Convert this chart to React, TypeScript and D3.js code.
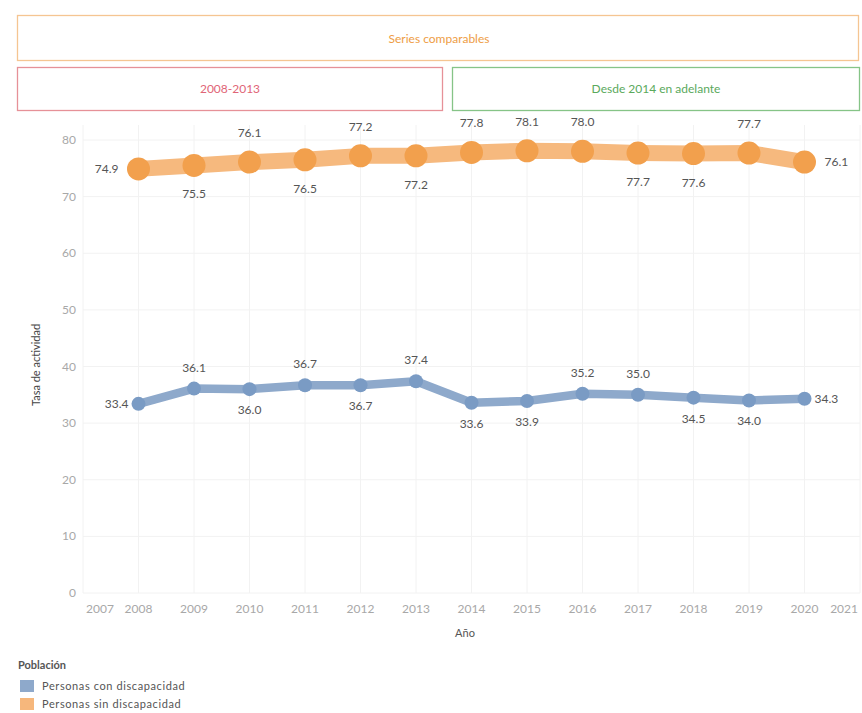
import React from "react";
import * as d3 from "d3";

const years = [2008, 2009, 2010, 2011, 2012, 2013, 2014, 2015, 2016, 2017, 2018, 2019, 2020];
const conDiscapacidad = [33.4, 36.1, 36.0, 36.7, 36.7, 37.4, 33.6, 33.9, 35.2, 35.0, 34.5, 34.0, 34.3];
const sinDiscapacidad = [74.9, 75.5, 76.1, 76.5, 77.2, 77.2, 77.8, 78.1, 78.0, 77.7, 77.6, 77.7, 76.1];
// label placement per point: l = left, r = right, a = above, b = below
const conPos = ["l", "a", "b", "a", "b", "a", "b", "b", "a", "a", "b", "b", "r"];
const sinPos = ["l", "b", "a", "b", "a", "b", "a", "a", "a", "b", "b", "a", "r"];
const xTicks = [2007, 2008, 2009, 2010, 2011, 2012, 2013, 2014, 2015, 2016, 2017, 2018, 2019, 2020, 2021];
const yTicks = [0, 10, 20, 30, 40, 50, 60, 70, 80];
const seriesNames = ["Personas con discapacidad", "Personas sin discapacidad"];

const W = 862;
const H = 713;
const FONT = "Lato, 'Open Sans', sans-serif";

export default function App() {
  const x = d3.scaleLinear().domain([2007, 2021]).range([83, 860]);
  const y = d3.scaleLinear().domain([0, 80]).range([593, 140]);
  const line = d3
    .line<number>()
    .x((_, i) => x(years[i]))
    .y((d) => y(d));

  const series = [
    { vals: sinDiscapacidad, pos: sinPos, lineColor: "#f6b97e", dot: "#f2a04d", lw: 16, r: 11.5, off: 29, side: 20 },
    { vals: conDiscapacidad, pos: conPos, lineColor: "#8ea9cb", dot: "#7a9bc4", lw: 8.5, r: 7, off: 21, side: 10 },
  ];

  return (
    <svg width={W} height={H} style={{ position: "absolute", left: 0, top: 0, background: "#fff" }} fontFamily={FONT}>
      {/* header boxes */}
      <rect x={17.5} y={15.5} width={841} height={45} fill="#fff" stroke="#f5c592" strokeWidth={1.3} />
      <text x={439} y={43} textAnchor="middle" fontSize={12} fill="#ee9d45">Series comparables</text>
      <rect x={17.5} y={67.5} width={425} height={43} fill="#fff" stroke="#e69198" strokeWidth={1.3} />
      <text x={230} y={93} textAnchor="middle" fontSize={12} fill="#df6577">2008-2013</text>
      <rect x={452.5} y={67.5} width={407} height={43} fill="#fff" stroke="#86c487" strokeWidth={1.3} />
      <text x={656} y={93} textAnchor="middle" fontSize={12} fill="#5aa95c">Desde 2014 en adelante</text>

      {/* grid */}
      {yTicks.map((t) => (
        <line key={"gy" + t} x1={83} x2={860} y1={y(t)} y2={y(t)} stroke="#f2f2f2" />
      ))}
      {xTicks.map((t) => (
        <line key={"gx" + t} x1={x(t)} x2={x(t)} y1={125} y2={593} stroke="#f2f2f2" />
      ))}

      {/* y axis */}
      {yTicks.map((t) => (
        <text key={"ty" + t} x={76} y={y(t) + 4} textAnchor="end" fontSize={12} fill="#a8a8a8">{t}</text>
      ))}
      <text transform={`translate(40,365) rotate(-90)`} textAnchor="middle" fontSize={11} fill="#444">Tasa de actividad</text>

      {/* x axis */}
      {xTicks.map((t, i) => (
        <text
          key={"tx" + t}
          x={i === 0 ? 86 : i === xTicks.length - 1 ? 858 : x(t)}
          y={613}
          textAnchor={i === 0 ? "start" : i === xTicks.length - 1 ? "end" : "middle"}
          fontSize={12}
          fill="#a8a8a8"
        >
          {t}
        </text>
      ))}
      <text x={465} y={637} textAnchor="middle" fontSize={11} fill="#555">Año</text>

      {/* series */}
      {series.map((s, si) => (
        <g key={"s" + si}>
          <path d={line(s.vals) || ""} fill="none" stroke={s.lineColor} strokeWidth={s.lw} strokeLinejoin="round" strokeLinecap="round" />
          {s.vals.map((v, i) => (
            <circle key={i} cx={x(years[i])} cy={y(v)} r={s.r} fill={s.dot} />
          ))}
          {s.vals.map((v, i) => {
            const p = s.pos[i];
            const cx = x(years[i]);
            const cy = y(v);
            let tx = cx;
            let ty = cy + 4;
            let anchor = "middle";
            if (p === "a") ty = cy - s.off + 4;
            else if (p === "b") ty = cy + s.off + 4;
            else if (p === "l") { tx = cx - s.side; anchor = "end"; }
            else { tx = cx + s.side; anchor = "start"; }
            return (
              <text key={"l" + i} x={tx} y={ty} textAnchor={anchor} fontSize={12} fill="#555">
                {v.toFixed(1)}
              </text>
            );
          })}
        </g>
      ))}

      {/* legend */}
      <text x={18} y={669} fontSize={11} fontWeight="bold" fill="#555">Población</text>
      <rect x={20} y={680} width={14} height={12} fill="#8ea9cb" />
      <text x={42} y={690} fontSize={11} fill="#555" letterSpacing={0.6}>{seriesNames[0]}</text>
      <rect x={20} y={698} width={14} height={12} fill="#f6b77c" />
      <text x={42} y={708} fontSize={11} fill="#555" letterSpacing={0.6}>{seriesNames[1]}</text>
    </svg>
  );
}
